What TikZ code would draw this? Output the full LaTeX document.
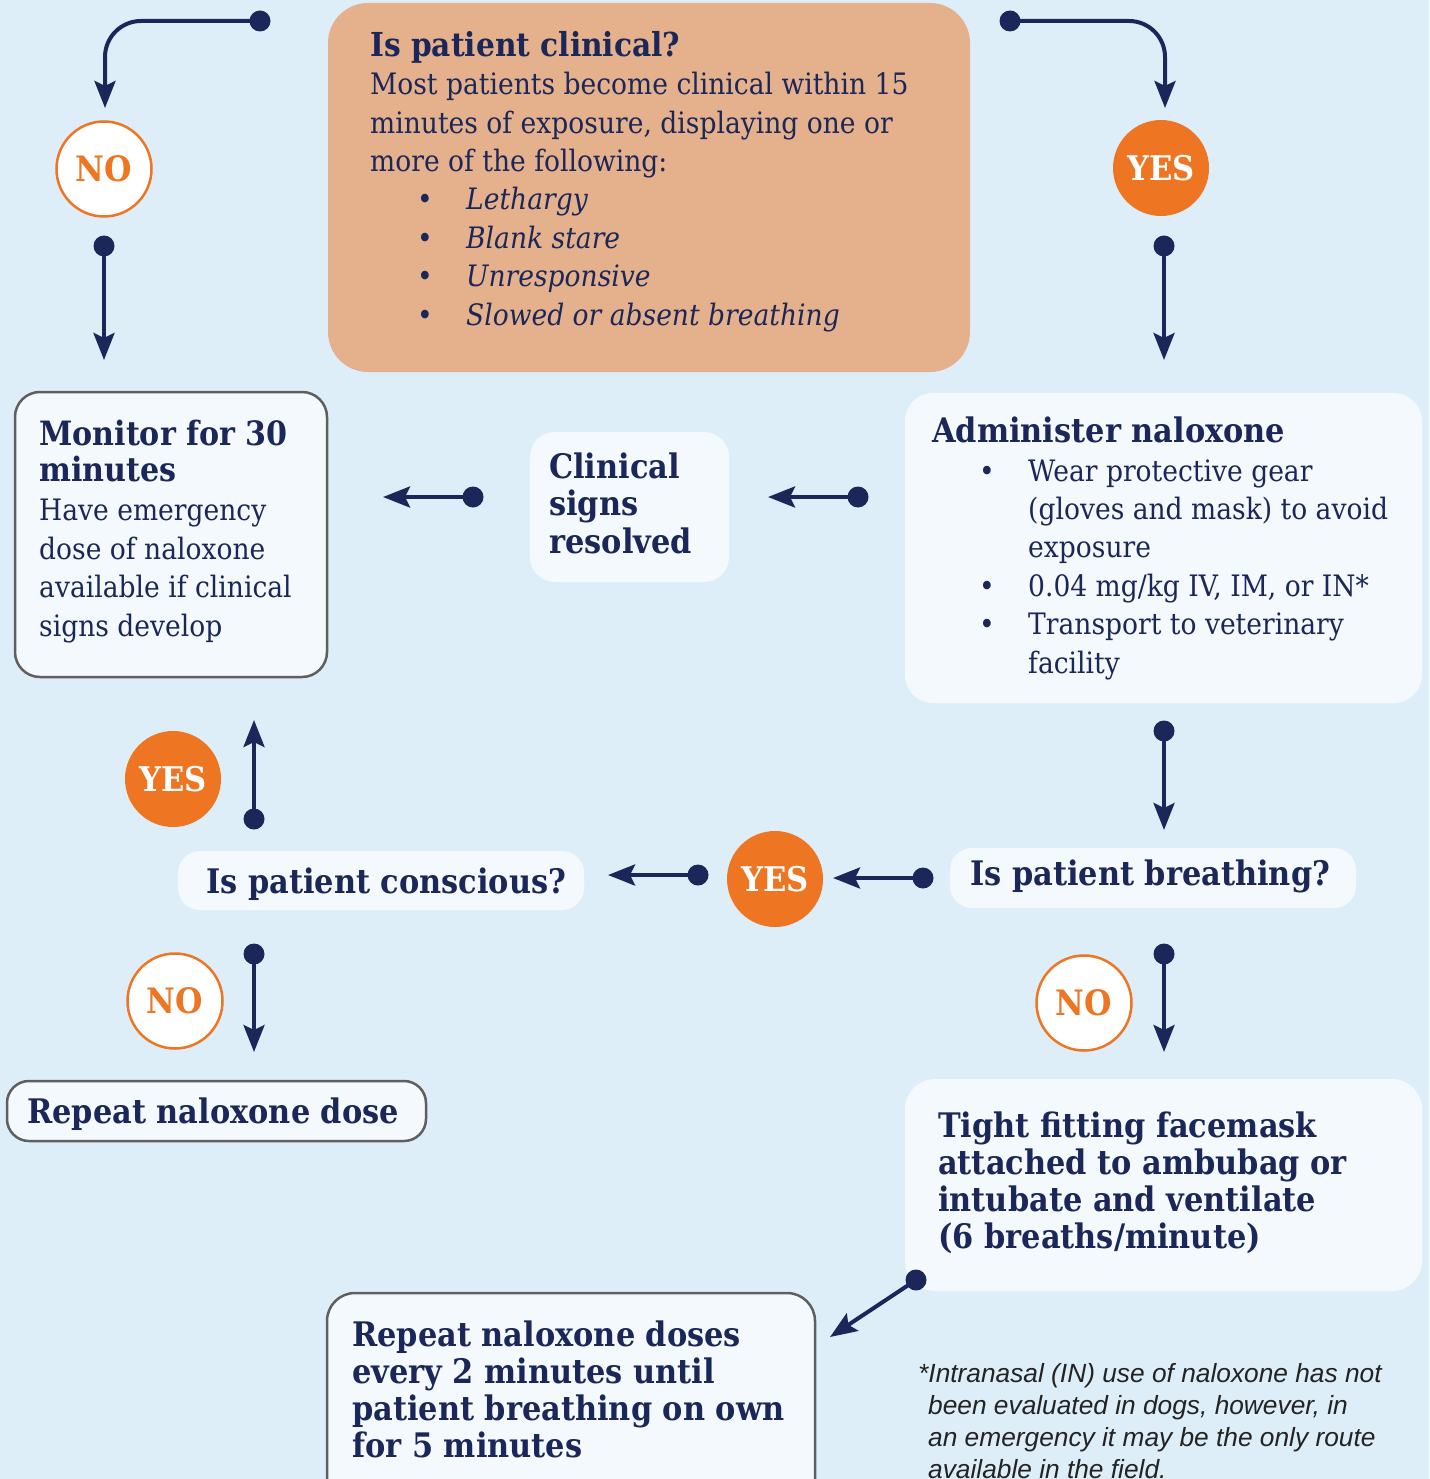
\documentclass[tikz,border=0pt]{standalone}
\usepackage{fontspec}
\setmainfont{DejaVu Serif}[FakeStretch=0.9]
\newfontfamily\notefont{Liberation Sans}
\usetikzlibrary{arrows.meta}
\definecolor{bgblue}{RGB}{222,238,249}
\definecolor{boxfill}{RGB}{243,249,253}
\definecolor{navy}{RGB}{27,39,88}
\definecolor{orng}{RGB}{238,118,35}
\definecolor{peach}{RGB}{229,176,140}
\definecolor{edgegrey}{RGB}{95,95,95}
\definecolor{notegrey}{RGB}{35,35,35}
\newcommand{\bodyfnt}{\fontsize{29.5}{38.4}\selectfont}
\newcommand{\headfnt}{\fontsize{33.8}{37}\selectfont\bfseries}
\newcommand{\blt}{\makebox[49pt][l]{•}}
\newcommand{\bind}{\hspace*{49pt}}
\begin{document}
\begin{tikzpicture}[x=1pt,y=-1pt,
  lightbox/.style={rectangle, fill=boxfill, draw=none, rounded corners=#1, inner sep=0pt},
  lightbox/.default=28pt,
  edgebox/.style={rectangle, fill=boxfill, draw=edgegrey, line width=2.5pt, rounded corners=#1, inner sep=0pt},
  edgebox/.default=25pt,
  txt/.style={anchor=base west, inner sep=0pt, align=left, text=navy},
  conn/.style={draw=navy, line width=4pt, -{Stealth[length=27pt,width=21pt,inset=5pt]}},
  yesc/.style={circle, fill=orng, minimum size=96pt, inner sep=0pt, text=white, font=\fontsize{34}{34}\selectfont\bfseries},
  noc/.style={circle, fill=white, draw=orng, line width=2.5pt, minimum size=95pt, inner sep=0pt, text=orng, font=\fontsize{35}{35}\selectfont\bfseries},
]
\useasboundingbox (0,0) rectangle (1429,1479);
\clip (0,0) rectangle (1429,1479);
\fill[bgblue] (0,0) rectangle (1429,1479);

% boxes
\node[lightbox=40pt, fill=peach, minimum width=642pt, minimum height=369pt] (clin) at (649,187.5) {};
\node[edgebox, minimum width=312pt, minimum height=285pt] (mon) at (171,534.5) {};
\node[lightbox=25pt, minimum width=199pt, minimum height=150pt] (res) at (629.5,507) {};
\node[lightbox=28pt, minimum width=517pt, minimum height=310pt] (adm) at (1163.5,548) {};
\node[lightbox=22pt, minimum width=406pt, minimum height=60pt] (brth) at (1153,878) {};
\node[lightbox=22pt, minimum width=406pt, minimum height=59pt] (cons) at (381,880.5) {};
\node[edgebox=22pt, minimum width=419pt, minimum height=60pt] (rep1) at (216.5,1111) {};
\node[lightbox=30pt, minimum width=517pt, minimum height=212pt] (tight) at (1163.5,1185) {};
\node[edgebox=28pt, minimum width=488pt, minimum height=217pt] (rep2) at (571,1401.5) {};

% texts (anchor = baseline of the last line)
\node[txt, font=\fontsize{33}{37}\selectfont\bfseries] (clinT) at (370,57) {Is patient clinical?};
\node[txt, font=\bodyfnt] (clinB) at (370,325) {Most patients become clinical within 15\\
minutes of exposure, displaying one or\\
more of the following:\\
\hspace*{47pt}\blt\textit{Lethargy}\\
\hspace*{47pt}\blt\textit{Blank stare}\\
\hspace*{47pt}\blt\textit{Unresponsive}\\
\hspace*{47pt}\blt\textit{Slowed or absent breathing}};
\node[txt, font=\fontsize{33.5}{36}\selectfont\bfseries] (monT) at (39,481) {Monitor for 30\\minutes};
\node[txt, font=\bodyfnt] (monB) at (39,636) {Have emergency\\dose of naloxone\\available if clinical\\signs develop};
\node[txt, font=\fontsize{33.8}{37.5}\selectfont\bfseries] (resT) at (549,553) {Clinical\\signs\\resolved};
\node[txt, font=\headfnt] (admT) at (932,442) {Administer naloxone};
\node[txt, font=\bodyfnt] (admB) at (979,673) {\blt Wear protective gear\\
\bind(gloves and mask) to avoid\\
\bind exposure\\
\blt 0.04 mg/kg IV, IM, or IN*\\
\blt Transport to veterinary\\
\bind facility};
\node[txt, font=\headfnt] (brthT) at (970,885) {Is patient breathing?};
\node[txt, font=\headfnt] (consT) at (206,893) {Is patient conscious?};
\node[txt, font=\headfnt] (rep1T) at (27,1123) {Repeat naloxone dose};
\node[txt, font=\headfnt] (tightT) at (938,1248) {Tight fitting facemask\\attached to ambubag or\\intubate and ventilate\\(6 breaths/minute)};
\node[txt, font=\headfnt] (rep2T) at (352,1457) {Repeat naloxone doses\\every 2 minutes until\\patient breathing on own\\for 5 minutes};
\node[txt, text=notegrey, font=\notefont\itshape\fontsize{26.3}{31.7}\selectfont] (note) at (918,1478) {*Intranasal (IN) use of naloxone has not\\
\hspace*{10pt}been evaluated in dogs, however, in\\
\hspace*{10pt}an emergency it may be the only route\\
\hspace*{10pt}available in the field.};

% decision circles
\node[noc] (no1) at (104,169) {NO};
\node[yesc] (yes1) at (1161,168) {YES};
\node[yesc] (yes2) at (775,879) {YES};
\node[yesc] (yes3) at (173,779) {YES};
\node[noc] (no2) at (175,1001) {NO};
\node[noc] (no3) at (1084,1003) {NO};

% connector end points
\coordinate (s1) at (260,21);   \coordinate (t1) at (105,108);
\coordinate (s2) at (104,246);  \coordinate (t2) at (104,360);
\coordinate (s3) at (1010,21);  \coordinate (t3) at (1165,108);
\coordinate (s4) at (1164,246); \coordinate (t4) at (1164,360);
\coordinate (s5) at (473,497);  \coordinate (t5) at (383,497);
\coordinate (s6) at (858,497);  \coordinate (t6) at (768,497);
\coordinate (s7) at (1164,731); \coordinate (t7) at (1164,830);
\coordinate (s8) at (923,878);  \coordinate (t8) at (833,878);
\coordinate (s9) at (698,875);  \coordinate (t9) at (608,875);
\coordinate (s10) at (254,819); \coordinate (t10) at (254,720);
\coordinate (s11) at (254,954); \coordinate (t11) at (254,1052);
\coordinate (s12) at (1164,954);\coordinate (t12) at (1164,1052);
\coordinate (s13) at (916,1280);\coordinate (t13) at (830,1337);

\draw[conn, rounded corners=36pt] (s1) -| (t1);
\draw[conn, rounded corners=36pt] (s3) -| (t3);
\foreach \i in {2,4,5,6,7,8,9,10,11,12,13} {\draw[conn] (s\i) -- (t\i);}
\foreach \i in {1,...,13} {\fill[navy] (s\i) circle (10.5);}
\end{tikzpicture}
\end{document}
